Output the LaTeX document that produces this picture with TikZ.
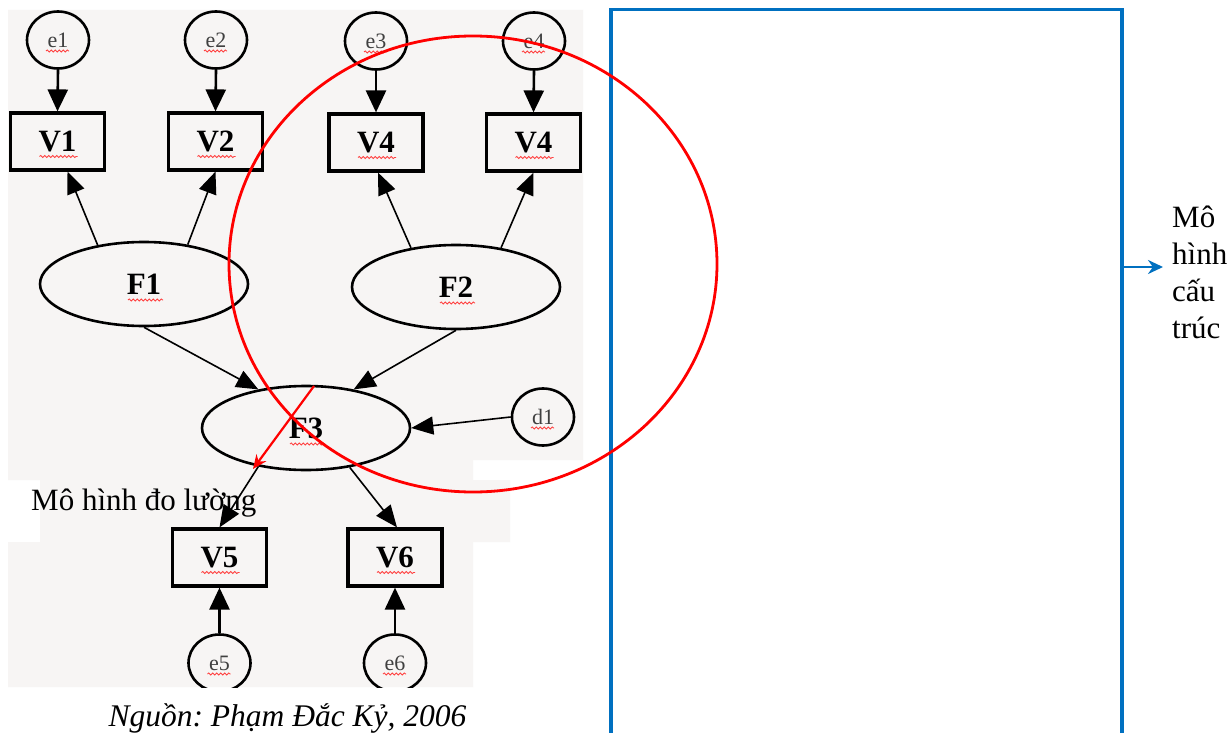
\documentclass[tikz,border=0pt]{standalone}
\usepackage{fontspec}
\setmainfont{Liberation Serif}
\usetikzlibrary{arrows.meta,shapes.geometric,decorations.pathmorphing}
\definecolor{paper}{RGB}{247,245,244}
\definecolor{wordblue}{RGB}{0,112,192}
\frenchspacing
\begin{document}
\begin{tikzpicture}[x=1pt,y=-1pt,
  errc/.style={ellipse,draw,line width=2.6pt,minimum width=62pt,minimum height=57pt,
    inner sep=0pt,font=\fontsize{22}{22}\selectfont,text=black!75},
  obs/.style={rectangle,draw,line width=3.2pt,minimum width=94pt,minimum height=57pt,
    inner sep=0pt,font=\bfseries\fontsize{31}{31}\selectfont},
  lat/.style={ellipse,draw,line width=2.6pt,minimum width=208pt,minimum height=84pt,
    inner sep=0pt,font=\bfseries\fontsize{31}{31}\selectfont},
  heavy/.style={-{Triangle[length=22pt,width=20pt]},line width=2.6pt},
  load/.style={-{Triangle[length=22pt,width=18pt]},line width=1.6pt},
  squig/.style={red!75,line width=0.8pt,decorate,
    decoration={snake,amplitude=1.1pt,segment length=4pt}},
  bigtext/.style={font=\fontsize{31}{37}\selectfont,inner sep=0pt},
  ]
\useasboundingbox (0,0) rectangle (1229,733);
\fill[white] (0,0) rectangle (1229,733);
% scanned model background
\fill[paper] (8,10) -- (583,10) -- (583,460) -- (473,460) -- (473,480) -- (510,480)
  -- (510,542) -- (473,542) -- (473,687) -- (8,687) -- (8,542) -- (40,542)
  -- (40,480) -- (8,480) -- cycle;

\begin{scope}
\clip (8,10) rectangle (583,687);
% error terms and indicators
\node[errc] (e1) at (58,40) {e1};
\node[errc] (e2) at (216,40) {e2};
\node[errc] (e3) at (376,41) {e3};
\node[errc] (e4) at (534,41) {e4};
\node[obs] (v1) at (57.5,141.5) {V1};
\node[obs] (v2) at (215.5,141.5) {V2};
\node[obs] (v4a) at (376,142.5) {V4};
\node[obs] (v4b) at (533.5,142.5) {V4};
% latent factors
\node[lat] (f1) at (144,284) {F1};
\node[lat] (f2) at (456,287) {F2};
\node[lat] (f3) at (306,428) {F3};
\node[errc] (d1) at (543,417) {d1};
\node[obs] (v5) at (219.5,557.5) {V5};
\node[obs] (v6) at (395,557.5) {V6};
\node[errc] (e5) at (219.5,663) {e5};
\node[errc] (e6) at (395,663) {e6};

% spelling marks under labels
\foreach \n in {e1,e2,e3,e4,e5,e6,d1}
  \draw[squig] ([shift={(-12,11)}]\n.center) -- ++(23,0);
\foreach \n in {v1,v2,v4a,v4b,v5,v6}
  \draw[squig] ([shift={(-18,15)}]\n.center) -- ++(38,0);
\foreach \n in {f1,f2,f3}
  \draw[squig] ([shift={(-16,16)}]\n.center) -- ++(35,0);

% paths
\draw[heavy] (e1.south) -- (v1.north);
\draw[heavy] (e2.south) -- (v2.north);
\draw[heavy] (e3.south) -- (v4a.north);
\draw[heavy] (e4.south) -- (v4b.north);
\draw[heavy] (e5.north) -- (v5.south);
\draw[heavy] (e6.north) -- (v6.south);
\draw[load] (f1.140) -- ([xshift=10pt]v1.south);
\draw[load] (f1.42) -- (v2.south);
\draw[load] (f2.139) -- ([xshift=2pt]v4a.south);
\draw[load] (f2.41) -- (v4b.south);
\draw[load] (f1.south) -- (f3.141);
\draw[load] (f2.south) -- (f3.39);
\draw[load] (d1.west) -- (f3.east);
\draw[load] (f3.219) -- (v5.north);
\draw[load] (f3.318) -- ([xshift=2pt]v6.north);
\end{scope}

% captions
\node[bigtext,anchor=base west] (meas) at (31,510) {Mô hình đo lường};
\node[bigtext,anchor=base,font=\itshape\fontsize{31.5}{37}\selectfont] (src) at (287.5,726)
  {Nguồn: Phạm Đắc Kỷ, 2006};
\node[bigtext,anchor=base west,align=left] (struct) at (1172,338)
  {Mô\\hình\\cấu\\trúc};

% structural model bracket
\coordinate (bl) at (611,735);
\coordinate (tl) at (611,9.5);
\coordinate (tr) at (1122,9.5);
\coordinate (br) at (1122,735);
\draw[wordblue,line width=3.2pt] (bl) -- (tl) -- (tr) -- (br);
\coordinate (ba) at (1122,267);
\coordinate (bt) at (1163,267);
\draw[wordblue,line width=2.6pt,-{Stealth[length=15pt,width=14pt]}] (ba) -- (bt);

% highlight
\coordinate (rc) at (473,264);
\draw[red,line width=2.8pt] (rc) ellipse [x radius=244,y radius=228];
\coordinate (ra) at (314,386);
\coordinate (rb) at (253,469);
\draw[red,line width=2.2pt,-{Stealth[length=14pt,width=12pt]}] (ra) -- (rb);
\end{tikzpicture}
\end{document}
